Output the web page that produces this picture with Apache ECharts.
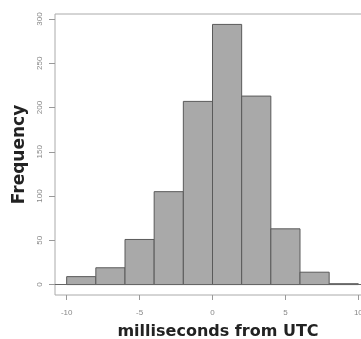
<!DOCTYPE html>
<html>
<head>
<meta charset="utf-8">
<script src="https://cdn.jsdelivr.net/npm/echarts@6/dist/echarts.min.js"></script>
<style>
html,body{margin:0;padding:0;background:#fff;}
#chart{width:361px;height:339px;}
</style>
</head>
<body>
<div id="chart"></div>
<script>
// Histogram data
var binStarts = [-10, -8, -6, -4, -2, 0, 2, 4, 6, 8];
var binEnds   = [-8, -6, -4, -2, 0, 2, 4, 6, 8, 10];
var counts    = [9, 19, 51, 105, 207, 294, 213, 63, 14, 1];
var xTicks = [-10, -5, 0, 5, 10];
var yTicks = [0, 50, 100, 150, 200, 250, 300];

var data = binStarts.map(function (s, i) { return [s, binEnds[i], counts[i]]; });

var chart = echarts.init(document.getElementById('chart'), null, {renderer: 'canvas'});
var font = 'Liberation Sans, Arial, sans-serif';
var titleFont = 'DejaVu Sans, Verdana, sans-serif';
chart.setOption({
  animation: false,
  backgroundColor: '#fff',
  grid: {
    show: true, left: 55, top: 14, right: -9, bottom: 44,
    containLabel: false, outerBoundsMode: 'none',
    borderColor: '#aaaaaa', borderWidth: 1, backgroundColor: 'transparent'
  },
  xAxis: {
    type: 'value', min: -10.8, max: 10.8,
    axisLine: {show: false, onZero: false},
    splitLine: {show: false},
    axisTick: {show: true, customValues: xTicks, length: 5, lineStyle: {color: '#999'}},
    axisLabel: {customValues: xTicks, fontSize: 8, color: '#888', margin: 14, fontFamily: font},
    name: 'milliseconds from UTC', nameLocation: 'middle', nameGap: 29,
    nameTextStyle: {fontSize: 16, fontWeight: 'bold', color: '#222', fontFamily: titleFont, padding: [0, 0, 0, 11]}
  },
  yAxis: {
    type: 'value', min: -11.76, max: 305.76,
    axisLine: {show: false, onZero: false},
    splitLine: {show: false},
    axisTick: {show: true, customValues: yTicks, length: 6, lineStyle: {color: '#999'}},
    axisLabel: {customValues: yTicks, rotate: 90, fontSize: 8, color: '#888', margin: 11, fontFamily: font},
    name: 'Frequency', nameLocation: 'middle', nameRotate: 90, nameGap: 15,
    nameTextStyle: {fontSize: 17, fontWeight: 'bold', color: '#222', fontFamily: titleFont}
  },
  series: [{
    type: 'custom',
    data: data,
    encode: {x: [0, 1], y: 2},
    renderItem: function (params, api) {
      var p0 = api.coord([api.value(0), 0]);
      var p1 = api.coord([api.value(1), api.value(2)]);
      return {
        type: 'rect',
        shape: {x: p0[0], y: p1[1], width: p1[0] - p0[0], height: p0[1] - p1[1]},
        style: {fill: '#a9a9a9', stroke: '#5a5a5a', lineWidth: 1}
      };
    },
    markLine: {
      silent: true, symbol: 'none', label: {show: false},
      lineStyle: {color: '#666', width: 1, type: 'solid'},
      data: [{yAxis: 0}]
    }
  }]
});
</script>
</body>
</html>
